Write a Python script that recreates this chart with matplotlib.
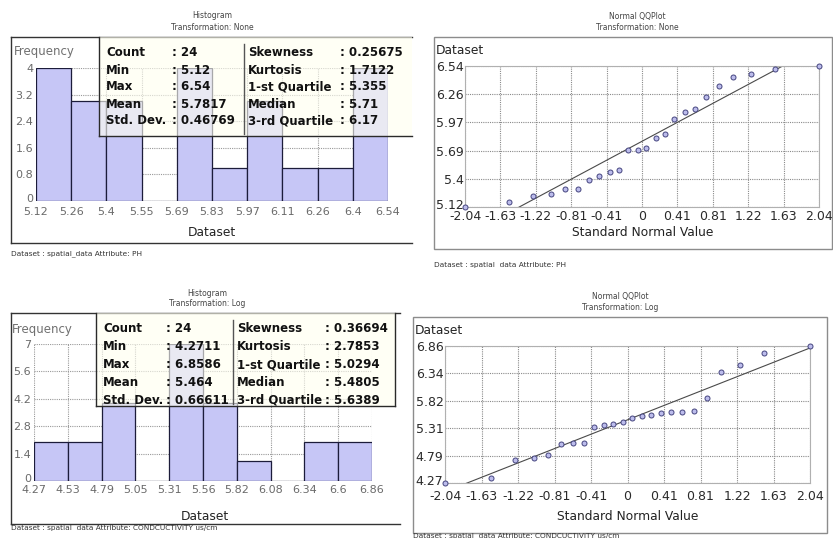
import matplotlib
matplotlib.use("Agg")
import matplotlib.pyplot as plt
import matplotlib.transforms as mtransforms
import numpy as np
from matplotlib.patches import Rectangle
from matplotlib.lines import Line2D

plt.rcParams['font.family'] = 'DejaVu Sans'

# ---- PH (Transformation: None) ----
ph_min, ph_max = 5.12, 6.54
ph_counts = [4, 3, 3, 0, 4, 1, 3, 1, 1, 4]
ph_xlabels = ['5.12', '5.26', '5.4', '5.55', '5.69', '5.83', '5.97', '6.11', '6.26', '6.4', '6.54']
ph_yticks = [0, 0.8, 1.6, 2.4, 3.2, 4]
ph_ylabels = ['0', '0.8', '1.6', '2.4', '3.2', '4']
ph_stats_l = [('Count', '24'), ('Min', '5.12'), ('Max', '6.54'), ('Mean', '5.7817'), ('Std. Dev.', '0.46769')]
ph_stats_r = [('Skewness', '0.25675'), ('Kurtosis', '1.7122'), ('1-st Quartile', '5.355'),
              ('Median', '5.71'), ('3-rd Quartile', '6.17')]
ph_mean, ph_std = 5.7817, 0.46769
ph_qq_labels = ['5.12', '5.4', '5.69', '5.97', '6.26', '6.54']
ph_values = [5.12, 5.17, 5.23, 5.25, 5.30, 5.30, 5.39, 5.43, 5.47, 5.49, 5.69, 5.69,
             5.71, 5.81, 5.86, 6.01, 6.08, 6.11, 6.23, 6.34, 6.43, 6.46, 6.51, 6.54]

# ---- Conductivity (Transformation: Log) ----
co_min, co_max = 4.27, 6.86
co_counts = [2, 2, 4, 0, 7, 4, 1, 0, 2, 2]
co_xlabels = ['4.27', '4.53', '4.79', '5.05', '5.31', '5.56', '5.82', '6.08', '6.34', '6.6', '6.86']
co_yticks = [0, 1.4, 2.8, 4.2, 5.6, 7]
co_ylabels = ['0', '1.4', '2.8', '4.2', '5.6', '7']
co_stats_l = [('Count', '24'), ('Min', '4.2711'), ('Max', '6.8586'), ('Mean', '5.464'), ('Std. Dev.', '0.66611')]
co_stats_r = [('Skewness', '0.36694'), ('Kurtosis', '2.7853'), ('1-st Quartile', '5.0294'),
              ('Median', '5.4805'), ('3-rd Quartile', '5.6389')]
co_mean, co_std = 5.464, 0.66611
co_qq_labels = ['4.27', '4.79', '5.31', '5.82', '6.34', '6.86']
co_values = [4.27, 4.36, 4.70, 4.74, 4.80, 5.00, 5.02, 5.02, 5.33, 5.37, 5.38, 5.43,
             5.50, 5.53, 5.55, 5.60, 5.62, 5.62, 5.63, 5.88, 6.36, 6.50, 6.73, 6.86]

# standard normal quantiles (x of the QQ points)
qq_x = [-2.04, -1.53, -1.26, -1.05, -0.89, -0.74, -0.61, -0.49, -0.37, -0.26, -0.16, -0.05,
        0.05, 0.16, 0.26, 0.37, 0.49, 0.61, 0.74, 0.89, 1.05, 1.26, 1.53, 2.04]
qq_xlabels = ['-2.04', '-1.63', '-1.22', '-0.81', '-0.41', '0', '0.41', '0.81', '1.22', '1.63', '2.04']

W, H = 833, 538
fig = plt.figure(figsize=(W / 100, H / 100), dpi=100)

BAR = '#c6c6f6'
BAR_EDGE = '#1c1c3a'


def fx(x):
    return x / W


def fy(y):
    return 1 - y / H


def add_ax(x0, y0, x1, y1):
    return fig.add_axes([fx(x0), fy(y1), (x1 - x0) / W, (y1 - y0) / H])


def hline(x0, x1, y, color, lw=1.0, z=2):
    fig.add_artist(Line2D([fx(x0), fx(x1)], [fy(y), fy(y)], transform=fig.transFigure,
                          color=color, lw=lw, zorder=z))


def vline(x, y0, y1, color, lw=1.0, z=2):
    fig.add_artist(Line2D([fx(x), fx(x)], [fy(y0), fy(y1)], transform=fig.transFigure,
                          color=color, lw=lw, zorder=z))


def txt(x, y, s, **kw):
    fig.text(fx(x), fy(y), s, **kw)


def lift_first_ylabel(ax, px):
    # bottom y label sits a bit above the axis corner, clear of the x labels
    lab = ax.get_yticklabels()[0]
    lab.set_transform(lab.get_transform() +
                      mtransforms.ScaledTranslation(0, px / 100, fig.dpi_scale_trans))


def histogram(ax, lo, hi, counts, xlabels, yticks, ylabels, xpad):
    edges = np.linspace(lo, hi, len(counts) + 1)
    ax.bar(edges[:-1], counts, width=np.diff(edges), align='edge', color=BAR,
           edgecolor=BAR_EDGE, linewidth=0.9, zorder=2)
    ax.set_xlim(lo, hi)
    ax.set_ylim(0, yticks[-1])
    ax.set_xticks(edges)
    ax.set_xticklabels(xlabels)
    ax.set_yticks(yticks)
    ax.set_yticklabels(ylabels)
    ax.grid(True, color='#999999', lw=0.8, ls=(0, (1, 1)), zorder=1)
    ax.set_axisbelow(True)
    for s in ax.spines.values():
        s.set_visible(False)
    ax.tick_params(axis='both', length=0, labelsize=8, labelcolor='#6a6a6a')
    ax.tick_params(axis='x', pad=xpad)
    ax.tick_params(axis='y', pad=2)
    lift_first_ylabel(ax, 3)


def qqplot(ax, values, mean, std, ylabels, xpad):
    lo, hi = values[0], values[-1]
    ax.set_xlim(-2.04, 2.04)
    ax.set_ylim(lo, hi)
    ax.set_xticks(np.linspace(-2.04, 2.04, len(qq_xlabels)))
    ax.set_xticklabels(qq_xlabels)
    ax.set_yticks(np.linspace(lo, hi, len(ylabels)))
    ax.set_yticklabels(ylabels)
    ax.grid(True, color='#8a8a8a', lw=0.8, ls=(0, (1, 1)), zorder=1)
    for s in ax.spines.values():
        s.set_color('#b0b0b0')
        s.set_linewidth(0.8)
    ax.tick_params(axis='both', length=0, labelsize=9, labelcolor='#2a2a2a')
    ax.tick_params(axis='x', pad=xpad)
    ax.tick_params(axis='y', pad=1)
    lift_first_ylabel(ax, 3)
    xs = np.array([-2.04, 2.04])
    ax.plot(xs, mean + std * xs, color='#4a4a4a', lw=0.8, zorder=2)
    ax.scatter(qq_x, values, s=13, facecolor='#bcbcec', edgecolor='#45457f',
               linewidth=0.7, zorder=3, clip_on=False)


def stats_box(x0, y0, x1, y1, divx, rows_y, cols, left, right):
    fig.add_artist(Rectangle((fx(x0), fy(y1)), (x1 - x0) / W, (y1 - y0) / H,
                             transform=fig.transFigure, facecolor='#fffff0', alpha=0.62,
                             edgecolor='none', zorder=10))
    hline(x0, x1, y1, '#2a2a2a', 1.0, 11)
    vline(x0, y0, y1, '#2a2a2a', 1.0, 11)
    vline(divx, y0 + 7, y1 - 2, '#555555', 1.0, 11)
    kw = dict(fontsize=8.5, fontweight='bold', color='#111111', va='center', zorder=12)
    for (a, b), (c, d), y in zip(left, right, rows_y):
        txt(cols[0], y, a, **kw)
        txt(cols[1], y, ': ' + b, **kw)
        txt(cols[2], y, c, **kw)
        txt(cols[3], y, ': ' + d, **kw)


title_kw = dict(fontsize=5.5, color='#444444', ha='center', va='center')
foot_kw = dict(fontsize=5.3, color='#333333', ha='left', va='center')
lab_kw = dict(fontsize=8.8, color='#222222', va='center')

# ---------------- top left: histogram, PH ----------------
txt(212, 16, 'Histogram', **title_kw)
txt(212, 27, 'Transformation: None', **title_kw)
hline(11, 412, 37, '#333333')
hline(11, 412, 243, '#333333')
vline(11, 37, 243, '#333333')
ax1 = add_ax(36, 68, 388, 201)
histogram(ax1, ph_min, ph_max, ph_counts, ph_xlabels, ph_yticks, ph_ylabels, 4)
txt(14, 52, 'Frequency', fontsize=8.5, color='#707070', va='center')
txt(212, 233, 'Dataset', ha='center', **lab_kw)
txt(11, 254, 'Dataset : spatial_data Attribute: PH', **foot_kw)
stats_box(99, 37, 412, 136, 244, [53, 70, 87, 104, 121], [106, 172, 248, 340],
          ph_stats_l, ph_stats_r)

# ---------------- top right: QQ plot, PH ----------------
txt(637, 17, 'Normal QQPlot', **title_kw)
txt(637, 28, 'Transformation: None', **title_kw)
fig.add_artist(Rectangle((fx(434), fy(249)), (832 - 434) / W, (249 - 37) / H,
                         transform=fig.transFigure, fill=False, edgecolor='#8c8c8c', lw=1.0))
ax2 = add_ax(465, 66, 819, 207)
qqplot(ax2, ph_values, ph_mean, ph_std, ph_qq_labels, 2)
txt(436, 51, 'Dataset', ha='left', **lab_kw)
txt(643, 233, 'Standard Normal Value', ha='center', **lab_kw)
txt(434, 265, 'Dataset : spatial  data Attribute: PH', **foot_kw)

# ---------------- bottom left: histogram, conductivity ----------------
txt(207, 293, 'Histogram', **title_kw)
txt(207, 303, 'Transformation: Log', **title_kw)
hline(11, 400, 313, '#333333')
hline(11, 400, 524, '#333333')
vline(11, 313, 524, '#333333')
ax3 = add_ax(34, 344, 372, 481)
histogram(ax3, co_min, co_max, co_counts, co_xlabels, co_yticks, co_ylabels, 3)
txt(12, 329, 'Frequency', fontsize=8.5, color='#707070', va='center')
txt(205, 516, 'Dataset', ha='center', **lab_kw)
txt(11, 528, 'Dataset : spatial  data Attribute: CONDCUCTIVITY us/cm', **foot_kw)
stats_box(96, 313, 395, 406, 233, [329, 347, 365, 382, 400], [103, 166, 237, 325],
          co_stats_l, co_stats_r)
vline(395, 313, 406, '#2a2a2a', 1.0, 11)

# ---------------- bottom right: QQ plot, conductivity ----------------
txt(620, 296, 'Normal QQPlot', **title_kw)
txt(620, 308, 'Transformation: Log', **title_kw)
fig.add_artist(Rectangle((fx(413), fy(533)), (827 - 413) / W, (533 - 317) / H,
                         transform=fig.transFigure, fill=False, edgecolor='#8c8c8c', lw=1.0))
ax4 = add_ax(445, 346, 810, 483)
qqplot(ax4, co_values, co_mean, co_std, co_qq_labels, 5)
txt(415, 330, 'Dataset', ha='left', **lab_kw)
txt(628, 517, 'Standard Normal Value', ha='center', **lab_kw)
txt(413, 536, 'Dataset : spatial  data Attribute: CONDCUCTIVITY us/cm', **foot_kw)

plt.savefig('out.png', dpi=100)
